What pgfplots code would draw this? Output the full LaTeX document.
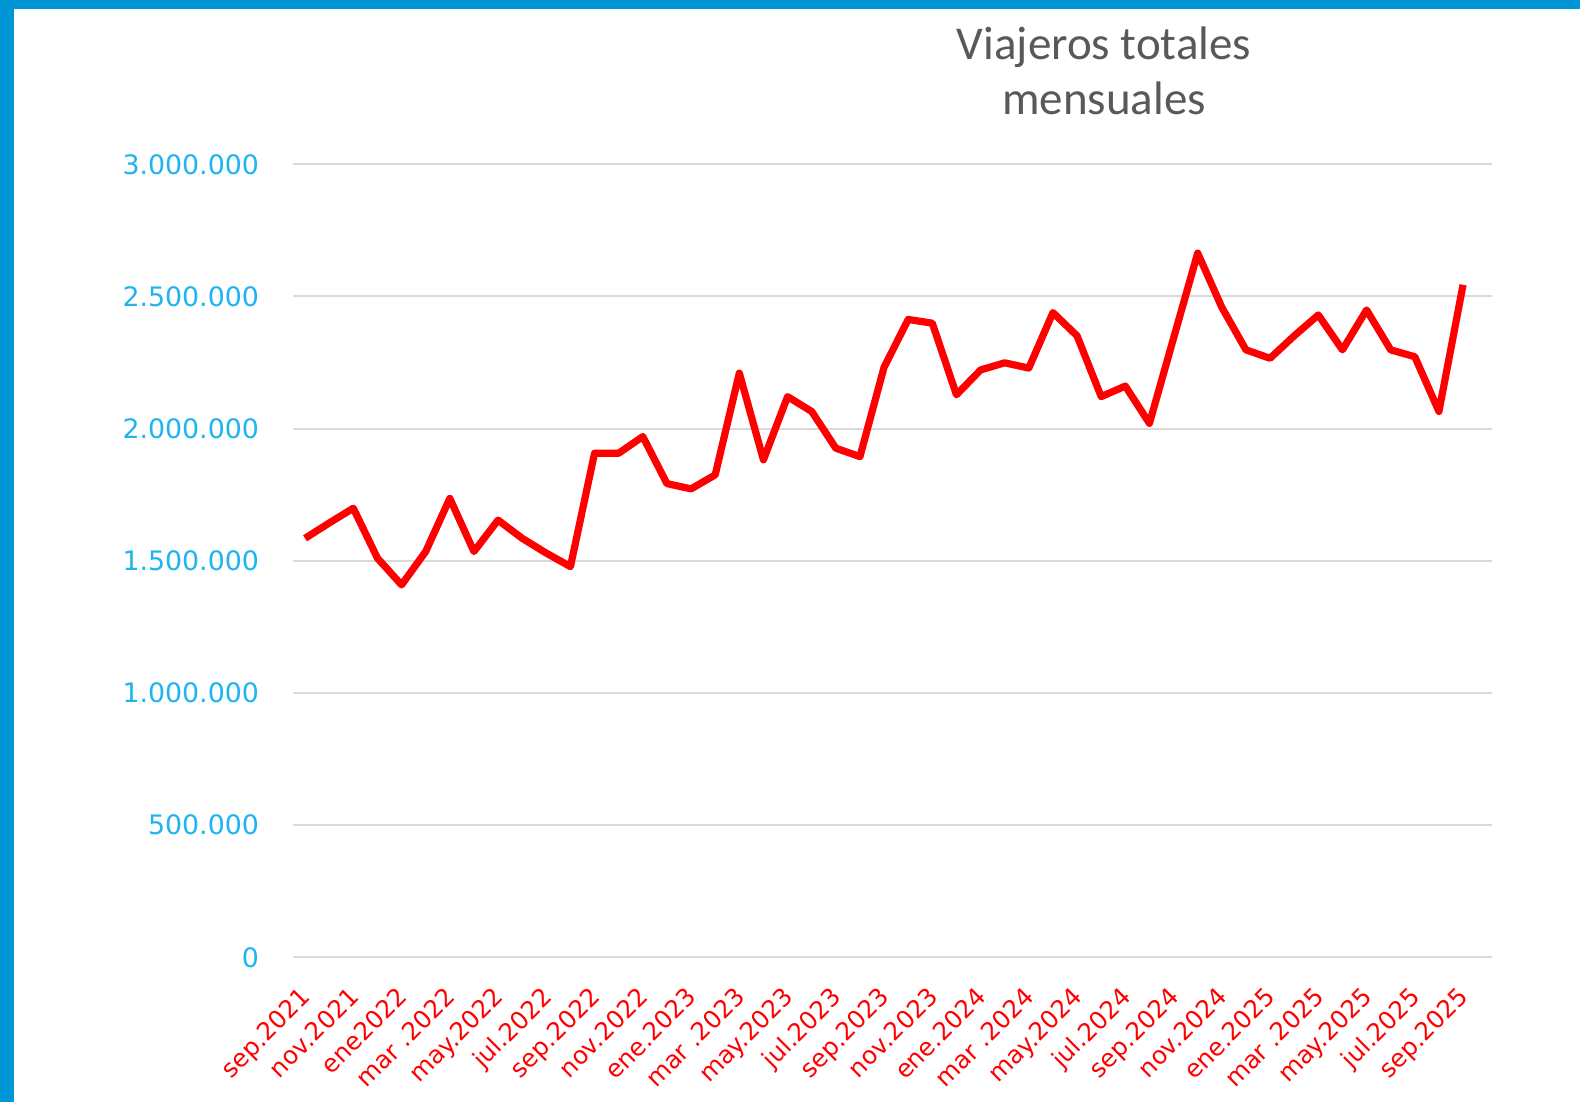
\documentclass[border=0pt]{standalone}
\usepackage{fontspec}
\usepackage{pgfplots}
\pgfplotsset{compat=1.18}
\newfontfamily\tickfont{DejaVu Sans}
\newfontfamily\titlefont{Carlito}
\definecolor{frameblue}{RGB}{0,150,214}
\definecolor{tickblue}{RGB}{30,180,240}
\definecolor{titlegray}{RGB}{89,89,89}
\definecolor{gridgray}{RGB}{217,217,217}
\pgfplotstableread{
x y
0 1585000
1 1643000
2 1699000
3 1510000
4 1409000
5 1535000
6 1736000
7 1535000
8 1654000
9 1585000
10 1529000
11 1478000
12 1907000
13 1907000
14 1970000
15 1792000
16 1772000
17 1825000
18 2210000
19 1882000
20 2121000
21 2065000
22 1926000
23 1894000
24 2232000
25 2413000
26 2399000
27 2128000
28 2222000
29 2249000
30 2229000
31 2439000
32 2351000
33 2121000
34 2161000
35 2020000
36 2342000
37 2664000
38 2459000
39 2298000
40 2266000
41 2351000
42 2430000
43 2298000
44 2449000
45 2298000
46 2272000
47 2065000
48 2544000
}\datatable
\begin{document}
\begin{tikzpicture}
\useasboundingbox (0pt,0pt) rectangle (790pt,551pt);
\fill[white] (0pt,0pt) rectangle (790pt,551pt);
\fill[frameblue] (0pt,546.5pt) rectangle (790pt,551pt);
\fill[frameblue] (0pt,0pt) rectangle (7pt,551pt);
\begin{axis}[
  at={(146.5pt,72.35pt)}, anchor=south west,
  scale only axis, width=599.5pt, height=396.5pt,
  xmin=-0.5, xmax=49.2, ymin=0, ymax=3000000,
  axis line style={draw=none},
  major tick length=0pt,
  ymajorgrids, grid style={gridgray, line width=1pt},
  xtick={0,2,...,48},
  xticklabels={sep.2021,nov.2021,ene2022,mar .2022,may.2022,jul.2022,sep.2022,nov.2022,ene.2023,mar .2023,may.2023,jul.2023,sep.2023,nov.2023,ene.2024,mar .2024,may.2024,jul.2024,sep.2024,nov.2024,ene.2025,mar .2025,may.2025,jul.2025,sep.2025},
  ytick={0,500000,1000000,1500000,2000000,2500000,3000000},
  scaled y ticks=false,
  yticklabel style={/pgf/number format/.cd, fixed, 1000 sep={.}, assume math mode=true, /tikz/.cd,
    font=\tickfont\fontsize{13.4}{15}\selectfont, text=tickblue, anchor=east, xshift=-13.5pt},
  xticklabel style={font=\tickfont\fontsize{12.3}{13}\selectfont, text=red, xshift=-3pt, yshift=-12.5pt, rotate=45, anchor=north east, inner sep=1pt},
  clip=false,
]
\addplot[red, line width=3.6pt, line join=round, mark=none] table[x=x,y=y] {\datatable};
\end{axis}
\node[align=center, font=\titlefont\fontsize{23.5}{27.5}\selectfont, text=titlegray] at (552pt,515.5pt) {Viajeros totales\\mensuales};
\end{tikzpicture}
\end{document}
